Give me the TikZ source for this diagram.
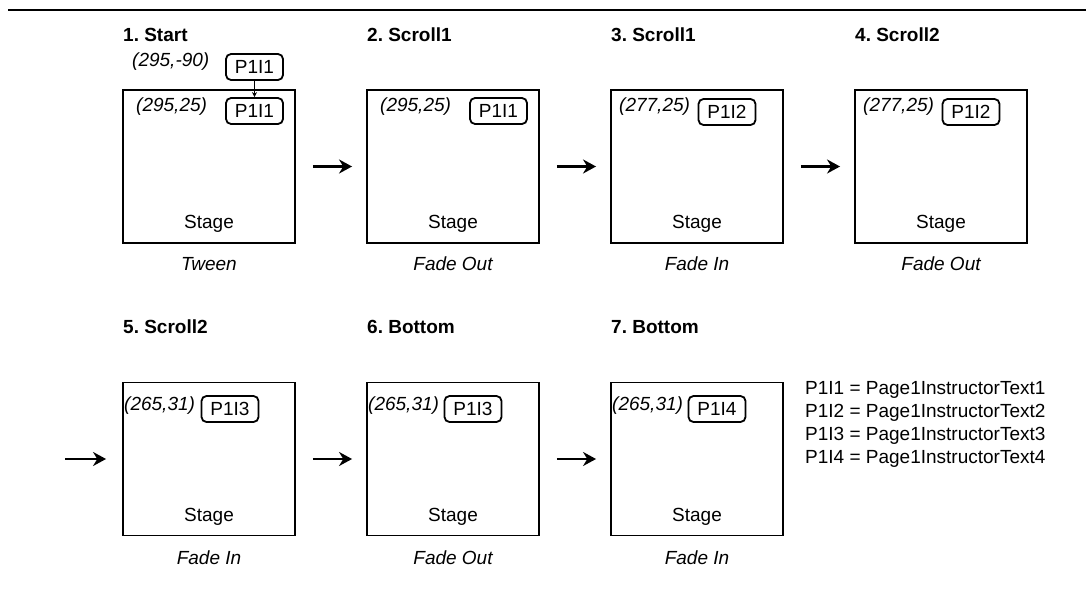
\documentclass[tikz,border=0pt]{standalone}
\usepackage{fontspec}
\setmainfont{Liberation Sans}
\usetikzlibrary{arrows.meta}
\frenchspacing
\begin{document}
\begin{tikzpicture}[x=1pt,y=-1pt,
  every node/.style={font=\fontsize{19}{22}\selectfont, inner sep=0pt},
  stagebox/.style={draw, line width=1.9pt, minimum width=172pt, minimum height=153pt},
  tag/.style={draw, line width=1.8pt, rounded corners=5pt, minimum width=57pt, minimum height=26pt},
  coordlbl/.style={font=\fontsize{19}{22}\selectfont\itshape, anchor=west},
  titlelbl/.style={font=\fontsize{19}{22}\selectfont\bfseries, anchor=west},
  capt/.style={font=\fontsize{19}{22}\selectfont\itshape},
  steparrow/.style={-{Stealth[length=13pt,width=14pt]}, line width=2.6pt},
]
\useasboundingbox (0,0) rectangle (1086,589);
\draw[line width=1.8pt] (8,10) -- (1086,10);

% row 1
\foreach \i/\x/\t/\c in {1/209/1. Start/Tween, 2/453/2. Scroll1/Fade Out, 3/697/3. Scroll1/Fade In, 4/941/4. Scroll2/Fade Out}{
  \node[stagebox] (s\i) at (\x,166.5) {};
  \node[titlelbl] (h\i) at (\x-86,35) {\t};
  \node (st\i) at (\x,224) {Stage};
  \node[capt] (c\i) at (\x,264) {\c};
}
% row 2
\foreach \i/\x/\t/\c in {5/209/5. Scroll2/Fade In, 6/453/6. Bottom/Fade Out, 7/697/7. Bottom/Fade In}{
  \node[stagebox] (s\i) at (\x,459) {};
  \node[titlelbl] (h\i) at (\x-86,327) {\t};
  \node (st\i) at (\x,517) {Stage};
  \node[capt] (c\i) at (\x,558) {\c};
}

% start tags
\node[coordlbl] (l0) at (132,62) {(295,-90)};
\node[tag] (t0) at (254.5,67) {P1I1};
\node[coordlbl] (l1) at (136,107) {(295,25)};
\node[tag] (t1) at (254.5,111) {P1I1};
\draw[-{Stealth[length=5pt,width=5pt]}, line width=0.9pt] (t0.south) -- (t1.north);

\node[coordlbl] (l2) at (380,107) {(295,25)};
\node[tag] (t2) at (498.5,111) {P1I1};
\node[coordlbl] (l3) at (619,107) {(277,25)};
\node[tag] (t3) at (727,112) {P1I2};
\node[coordlbl] (l4) at (863,107) {(277,25)};
\node[tag] (t4) at (971,112) {P1I2};

\node[coordlbl] (l5) at (124,406) {(265,31)};
\node[tag] (t5) at (230,409) {P1I3};
\node[coordlbl] (l6) at (368,406) {(265,31)};
\node[tag] (t6) at (473,409) {P1I3};
\node[coordlbl] (l7) at (612,406) {(265,31)};
\node[tag] (t7) at (717,409) {P1I4};

% arrows
\draw[steparrow, shorten <=17pt, shorten >=14pt] (s1) -- (s2);
\draw[steparrow, shorten <=17pt, shorten >=14pt] (s2) -- (s3);
\draw[steparrow, shorten <=17pt, shorten >=14pt] (s3) -- (s4);
\coordinate (in5) at (65,459);
\draw[steparrow, shorten >=16pt] (in5) -- (s5);
\draw[steparrow, shorten <=17pt, shorten >=14pt] (s5) -- (s6);
\draw[steparrow, shorten <=17pt, shorten >=14pt] (s6) -- (s7);

% legend
\node[anchor=west] (leg1) at (805,390) {P1I1 = Page1InstructorText1};
\node[anchor=west] (leg2) at (805,413) {P1I2 = Page1InstructorText2};
\node[anchor=west] (leg3) at (805,436) {P1I3 = Page1InstructorText3};
\node[anchor=west] (leg4) at (805,459) {P1I4 = Page1InstructorText4};
\end{tikzpicture}
\end{document}
